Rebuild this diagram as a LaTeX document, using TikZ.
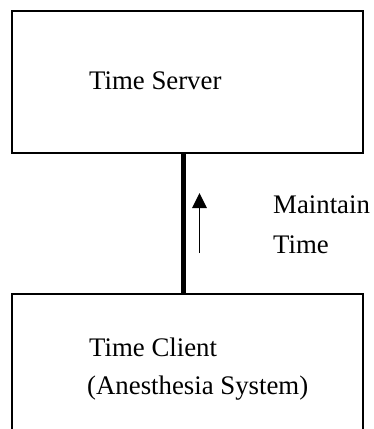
\documentclass[tikz,border=0pt]{standalone}
\usepackage{fontspec}
\setmainfont{Liberation Serif}
\usetikzlibrary{arrows.meta}
\begin{document}
\begin{tikzpicture}[x=1pt,y=-1pt,
  boxnode/.style={draw=black, line width=2pt, rectangle, inner sep=0pt, minimum width=351pt},
  lbl/.style={anchor=base west, inner sep=0pt, font=\fontsize{26.8}{40}\selectfont}]
\clip (0,0) rectangle (374,429);
\fill[white] (0,0) rectangle (374,429);
% boxes
\node[boxnode, minimum height=142pt] (server) at (187.5,81.5) {};
\node[boxnode, minimum height=160pt] (client) at (187.5,374) {};
% texts
\node[lbl] (serverlbl) at (89,89) {Time Server};
\node[lbl] (clientlbl1) at (89,356) {Time Client};
\node[lbl] (clientlbl2) at (87,394) {(Anesthesia System)};
\node[lbl] (maint1) at (273,213) {Maintain};
\node[lbl] (maint2) at (273,253) {Time};
% connector
\coordinate (cx) at (183.5,0);
\draw[line width=5pt] (server.south -| cx) -- (client.north -| cx);
% arrow
\coordinate (atail) at (199.5,253);
\coordinate (ahead) at (199.5,193);
\draw[line width=1.4pt, -{Triangle[width=14.6pt,length=15pt]}] (atail) -- (ahead);
\end{tikzpicture}
\end{document}
